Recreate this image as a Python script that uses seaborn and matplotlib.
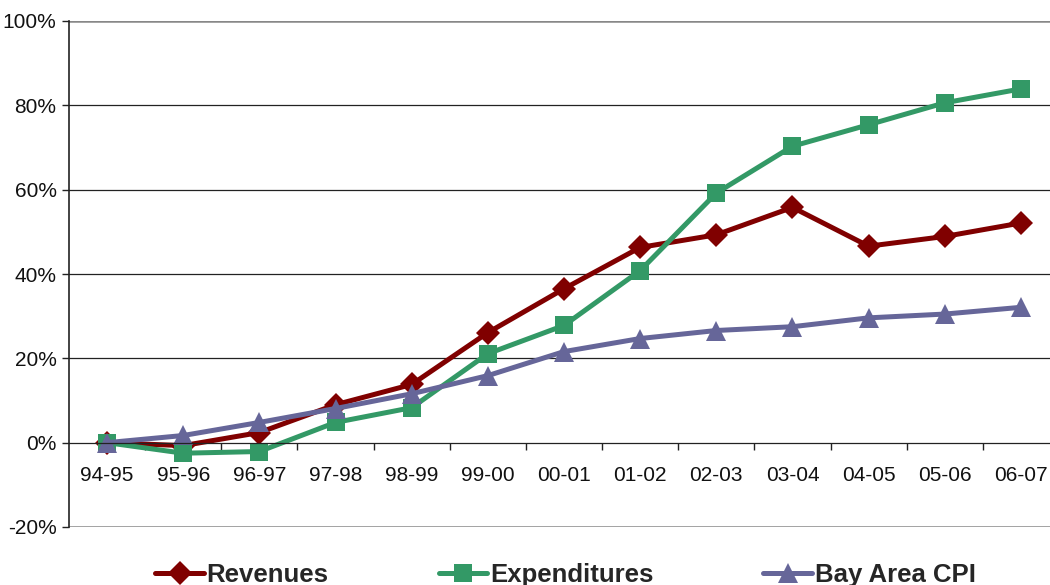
import matplotlib
matplotlib.use("Agg")
import matplotlib.pyplot as plt
from matplotlib.ticker import FixedLocator, PercentFormatter
from matplotlib.lines import Line2D
import seaborn as sns
import pandas as pd

years = ["94-95", "95-96", "96-97", "97-98", "98-99", "99-00", "00-01",
         "01-02", "02-03", "03-04", "04-05", "05-06", "06-07"]
revenues = [0.0, -0.7, 2.4, 9.0, 13.8, 26.1, 36.5, 46.3, 49.3, 55.8, 46.6, 48.9, 52.1]
expenditures = [0.0, -2.5, -2.1, 4.8, 8.3, 21.1, 27.8, 40.8, 59.2, 70.3, 75.4, 80.6, 83.9]
bay_area_cpi = [0.0, 1.7, 4.8, 8.1, 11.6, 15.9, 21.6, 24.7, 26.6, 27.5, 29.6, 30.5, 32.1]

series_names = ["Revenues", "Expenditures", "Bay Area CPI"]
colors = {"Revenues": "#800000", "Expenditures": "#339966", "Bay Area CPI": "#666699"}
markers = {"Revenues": "D", "Expenditures": "s", "Bay Area CPI": "^"}
sizes = {"Revenues": 12, "Expenditures": 13, "Bay Area CPI": 14}

rows = []
for name, vals in zip(series_names, [revenues, expenditures, bay_area_cpi]):
    for i, (yr, v) in enumerate(zip(years, vals)):
        rows.append({"pos": i, "year": yr, "series": name, "value": v})
df = pd.DataFrame(rows)

sns.set_theme(style="white")
plt.rcParams["font.family"] = ["Liberation Sans", "DejaVu Sans"]
plt.rcParams["axes.unicode_minus"] = False

fig = plt.figure(figsize=(10.5, 5.85), dpi=100)
ax = fig.add_axes([69 / 1050, 1 - 527 / 585, 990 / 1050, 506 / 585])

sns.lineplot(data=df, x="pos", y="value", hue="series", style="series",
             hue_order=series_names, style_order=series_names,
             palette=colors, markers=markers, dashes=False,
             linewidth=3.6, markeredgewidth=0, sort=False, ax=ax, legend=False)
for line, name in zip(ax.get_lines(), series_names):
    line.set_markersize(sizes[name])
    line.set_clip_on(False)

ax.set_xlim(-0.5, len(years) - 0.5)
ax.set_ylim(-20, 100)

# horizontal gridlines
for yv in [20, 40, 60, 80]:
    ax.axhline(yv, color="#222222", lw=0.9, zorder=0)
for yv in [100, -20]:
    ax.axhline(yv, color="#888888", lw=1.8, zorder=0)

for s in ["top", "right"]:
    ax.spines[s].set_visible(False)
ax.spines["bottom"].set_position(("data", 0))
ax.spines["bottom"].set_color("#222222")
ax.spines["bottom"].set_linewidth(0.9)
ax.spines["left"].set_color("#222222")
ax.spines["left"].set_linewidth(1.2)

ax.set_yticks([-20, 0, 20, 40, 60, 80, 100])
ax.yaxis.set_major_formatter(PercentFormatter(decimals=0))
ax.tick_params(axis="y", which="major", direction="out", length=5, width=1,
               color="#222222", labelsize=15, pad=4, left=True)

ax.set_xticks(range(len(years)))
ax.set_xticklabels(years)
ax.xaxis.set_minor_locator(FixedLocator([i + 0.5 for i in range(len(years))]))
ax.tick_params(axis="x", which="major", length=0, labelsize=15, pad=17)
ax.tick_params(axis="x", which="minor", direction="out", length=5, width=1,
               color="#222222", bottom=True)
for lbl in ax.get_xticklabels() + ax.get_yticklabels():
    lbl.set_color("#111111")

ax.set_xlabel("")
ax.set_ylabel("")

# legend along the bottom edge
handles = [Line2D([0], [0], color=colors[n], lw=3.6, marker=markers[n],
                  markersize=sizes[n], markeredgewidth=0) for n in series_names]
leg = fig.legend(handles, series_names, loc="center", ncol=3, frameon=False,
                 bbox_to_anchor=(0.5386, 1 - 575 / 585), handlelength=1.88,
                 handletextpad=0.12, columnspacing=4.28,
                 prop={"size": 18.5, "weight": "bold"})

fig.savefig("out.png", dpi=100)
